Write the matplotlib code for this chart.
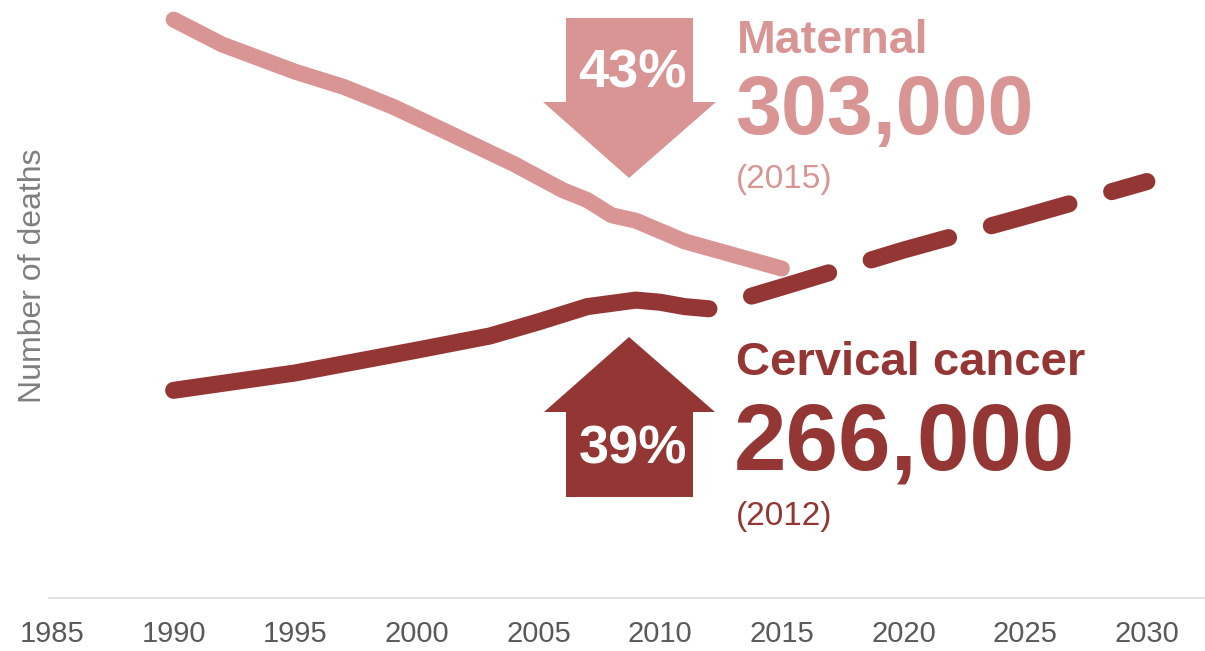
import matplotlib
matplotlib.use("Agg")
import matplotlib.pyplot as plt
from matplotlib.patches import Polygon

plt.rcParams['font.family'] = ['Liberation Sans', 'DejaVu Sans']
plt.rcParams['lines.scale_dashes'] = False

# ---- data ----
maternal_years = [1990, 1992, 1995, 1997, 1999, 2001, 2004, 2006, 2007, 2008, 2009, 2011, 2015]
maternal_deaths = [532000, 509000, 484000, 470000, 452000, 431000, 399000, 375000, 366000,
                   352000, 347000, 328000, 303000]

cervical_years = [1990, 1995, 2000, 2003, 2005, 2007, 2009, 2010, 2011, 2012]
cervical_deaths = [191000, 207000, 228000, 241000, 254000, 268000, 274000, 272000, 268000, 266000]

projection_years = [2012, 2015, 2020, 2025, 2030]
projection_deaths = [266000, 286000, 320000, 351000, 383000]

xticks = [1985, 1990, 1995, 2000, 2005, 2010, 2015, 2020, 2025, 2030]

MATERNAL = '#D99594'
CERVICAL = '#943634'

W, H = 1205, 651
fig = plt.figure(figsize=(W / 100, H / 100), dpi=100)


def fx(x):
    return x / W


def fy(y):
    return 1 - y / H


ax = fig.add_axes([fx(49), fy(598), (W - 49) / W, 598 / H])
ppy = 24.33
ax.set_xlim(1985 - 3 / ppy, 1985 + (W - 52) / ppy)
ax.set_ylim(0, 550000)

ax.plot(maternal_years, maternal_deaths, color=MATERNAL, lw=11.5,
        solid_capstyle='round', solid_joinstyle='round', zorder=3)
ax.plot(cervical_years, cervical_deaths, color=CERVICAL, lw=12.3,
        solid_capstyle='round', solid_joinstyle='round', zorder=3)
ax.plot(projection_years, projection_deaths, color=CERVICAL, lw=12.3,
        linestyle=(58, (58, 32)), dash_capstyle='round', dash_joinstyle='round', zorder=3)

for s in ['top', 'right', 'left']:
    ax.spines[s].set_visible(False)
ax.spines['bottom'].set_color('#D9D9D9')
ax.spines['bottom'].set_linewidth(1.1)
ax.set_yticks([])
ax.set_xticks(xticks)
ax.set_xticklabels([str(t) for t in xticks])
ax.tick_params(axis='x', length=0, pad=16, labelsize=21, labelcolor='#595959')

fig.text(fx(33), fy(276), 'Number of deaths', rotation=90, ha='center', va='center',
         fontsize=23, color='#7F7F7F')

# ---- arrows ----
down = [(566, 18), (693, 18), (693, 102), (716, 102), (629, 178), (543, 102), (566, 102)]
up = [(629, 337), (715, 412), (693, 412), (693, 497), (566, 497), (566, 412), (544, 412)]
fig.add_artist(Polygon([(fx(x), fy(y)) for x, y in down], closed=True,
                       transform=fig.transFigure, facecolor=MATERNAL, edgecolor='none'))
fig.add_artist(Polygon([(fx(x), fy(y)) for x, y in up], closed=True,
                       transform=fig.transFigure, facecolor=CERVICAL, edgecolor='none'))

fig.text(fx(632), fy(88), '43%', ha='center', va='baseline', fontsize=39,
         fontweight='bold', color='white')
fig.text(fx(633), fy(463), '39%', ha='center', va='baseline', fontsize=39,
         fontweight='bold', color='white')

# ---- labels ----
fig.text(fx(737), fy(53), 'Maternal', ha='left', va='baseline', fontsize=33.5,
         fontweight='bold', color=MATERNAL)
fig.text(fx(735), fy(134), '303,000', ha='left', va='baseline', fontsize=59.5,
         fontweight='bold', color=MATERNAL)
fig.text(fx(736), fy(188), '(2015)', ha='left', va='baseline', fontsize=24,
         color=MATERNAL)

fig.text(fx(736), fy(375), 'Cervical cancer', ha='left', va='baseline', fontsize=34,
         fontweight='bold', color=CERVICAL)
fig.text(fx(734), fy(470), '266,000', ha='left', va='baseline', fontsize=68,
         fontweight='bold', color=CERVICAL)
fig.text(fx(736), fy(525), '(2012)', ha='left', va='baseline', fontsize=24,
         color=CERVICAL)

fig.savefig('out.png', dpi=100)
